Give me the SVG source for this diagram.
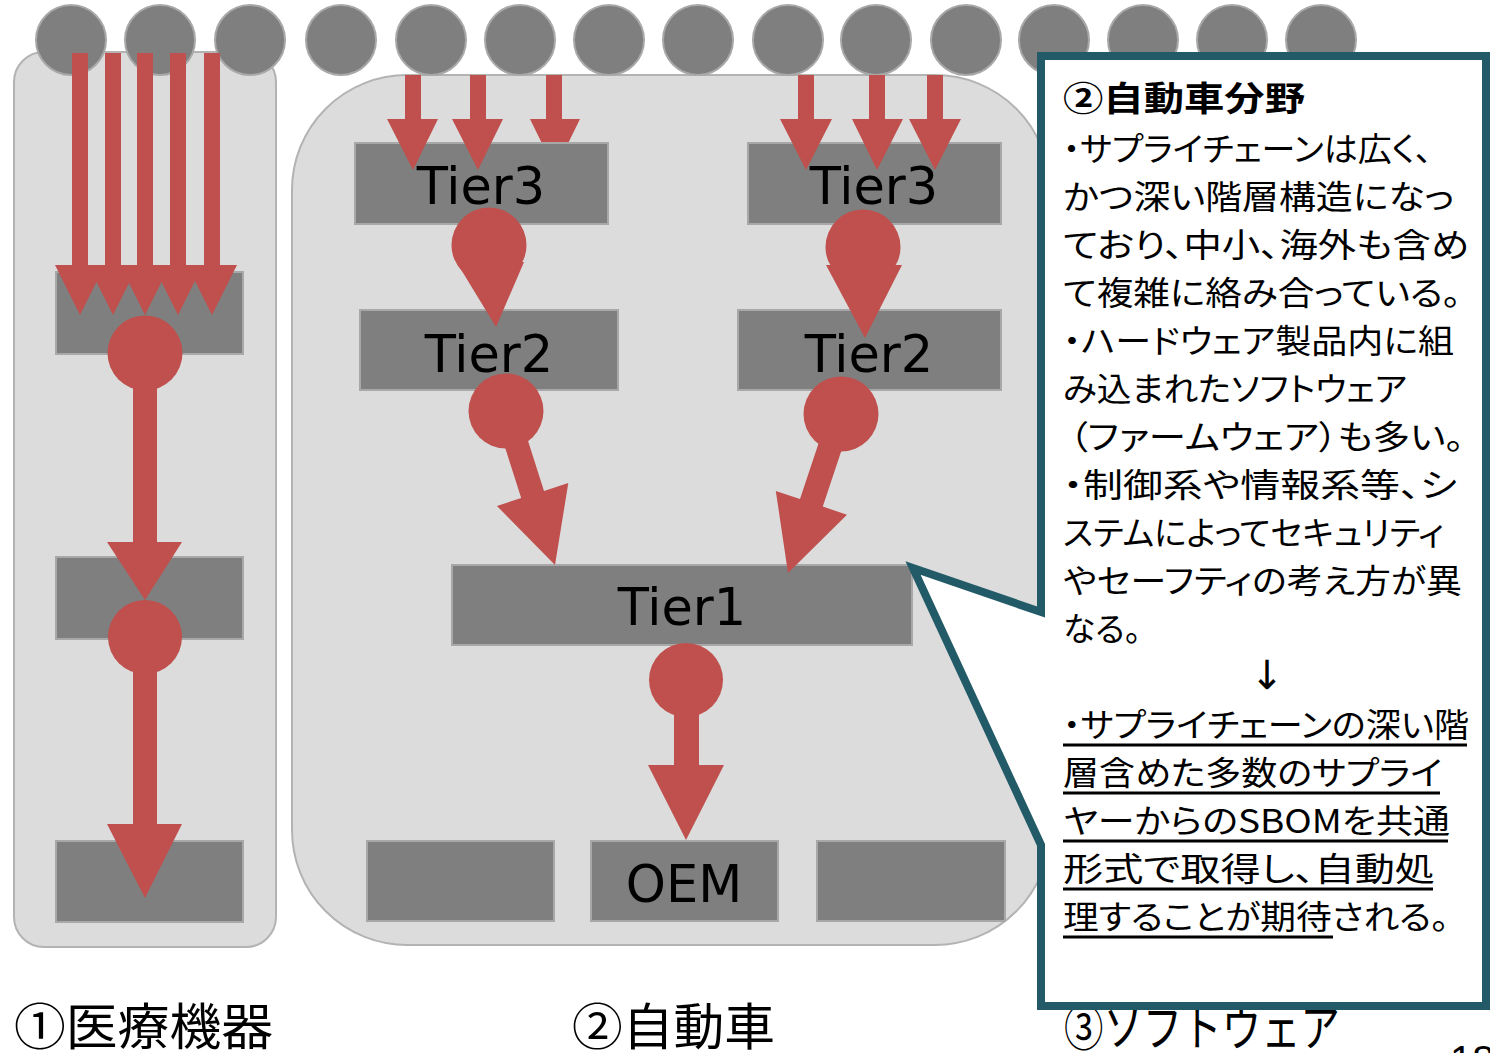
<svg xmlns="http://www.w3.org/2000/svg" width="1490" height="1053" viewBox="0 0 1490 1053">
<style>
.panel{fill:#DCDCDC;stroke:#B3B3B3;stroke-width:2}
.box{fill:#7F7F7F;stroke:#A8A8A8;stroke-width:2}
.dot{fill:#7F7F7F;stroke:#A8A8A8;stroke-width:2}
.red{fill:#C0504D;stroke:none}
.tier{font-family:"DejaVu Sans",Verdana,sans-serif;font-size:51px;fill:#000;text-anchor:middle}
.jp{font-family:"Noto Sans CJK JP","Noto Sans",sans-serif;fill:#000}
.call{font-size:33px;font-feature-settings:"palt"}
.lab{font-size:50px}
.ul{stroke:#000;stroke-width:3}
</style>
<rect width="1490" height="1053" fill="#FFFFFF"/>

<g id="panel-medical"><rect class="panel" x="14" y="52" width="262" height="895" rx="30"/></g>
<g id="panel-auto"><rect class="panel" x="292" y="75" width="758" height="870" rx="115"/></g>

<g id="suppliers">
<circle class="dot" cx="71" cy="40" r="35"/><circle class="dot" cx="160" cy="40" r="35"/><circle class="dot" cx="250" cy="40" r="35"/>
<circle class="dot" cx="341" cy="40" r="35"/><circle class="dot" cx="431" cy="40" r="35"/><circle class="dot" cx="520" cy="40" r="35"/>
<circle class="dot" cx="609" cy="40" r="35"/><circle class="dot" cx="698" cy="40" r="35"/><circle class="dot" cx="788" cy="40" r="35"/>
<circle class="dot" cx="876" cy="40" r="35"/><circle class="dot" cx="966" cy="40" r="35"/><circle class="dot" cx="1054" cy="40" r="35"/>
<circle class="dot" cx="1143" cy="40" r="35"/><circle class="dot" cx="1232" cy="40" r="35"/><circle class="dot" cx="1321" cy="40" r="35"/>
</g>

<g id="connectors-behind">
<polygon class="red" points="546,75 562,75 562,119 580,119 555,170 530,119 546,119"/>
</g>

<g id="med-box1"><rect class="box" x="56" y="272" width="187" height="82"/></g>
<g id="med-box2"><rect class="box" x="56" y="557" width="187" height="82"/></g>
<g id="med-box3"><rect class="box" x="56" y="841" width="187" height="81"/></g>

<g id="tier3-left"><rect class="box" x="355" y="143" width="253" height="81"/></g>
<g id="tier3-right"><rect class="box" x="748" y="143" width="253" height="81"/></g>
<g id="tier2-left"><rect class="box" x="360" y="310" width="258" height="80"/></g>
<g id="tier2-right"><rect class="box" x="738" y="310" width="263" height="80"/></g>
<g id="tier1"><rect class="box" x="452" y="565" width="460" height="80"/></g>
<g id="oem-left"><rect class="box" x="367" y="841" width="187" height="80"/></g>
<g id="oem"><rect class="box" x="591" y="841" width="187" height="80"/></g>
<g id="oem-right"><rect class="box" x="817" y="841" width="188" height="80"/></g>

<g id="connectors">
<polygon class="red" points="72,53 88,53 88,265 105,265 80,315 55,265 72,265"/>
<polygon class="red" points="105,53 121,53 121,265 138,265 113,315 88,265 105,265"/>
<polygon class="red" points="137,53 153,53 153,265 170,265 145,315 120,265 137,265"/>
<polygon class="red" points="170,53 186,53 186,265 203,265 178,315 153,265 170,265"/>
<polygon class="red" points="204,53 220,53 220,265 237,265 212,315 187,265 204,265"/>
<circle class="red" cx="145" cy="353" r="37.5"/>
<polygon class="red" points="133,353 157,353 157,542 182,542 145,600 107,542 133,542"/>
<circle class="red" cx="145" cy="637" r="37"/>
<polygon class="red" points="133,637 157,637 157,824 182,824 145,898 107,824 133,824"/>
<polygon class="red" points="405,75 421,75 421,119 438,119 413,170 387,119 405,119"/>
<polygon class="red" points="470,75 486,75 486,119 503,119 478,170 452,119 470,119"/>
<polygon class="red" points="798,75 814,75 814,119 832,119 806,170 780,119 798,119"/>
<polygon class="red" points="869,75 885,75 885,119 903,119 877,170 852,119 869,119"/>
<polygon class="red" points="927,75 943,75 943,119 961,119 935,170 909,119 927,119"/>
<circle class="red" cx="489" cy="245" r="37.5"/>
<polygon class="red" points="454,258 524,262 496,327"/>
<circle class="red" cx="863" cy="247" r="37.5"/>
<polygon class="red" points="826,265 902,265 865,338"/>
<circle class="red" cx="506" cy="411" r="37.5"/>
<polygon class="red" points="494.6,414.6 517.4,407.4 544,490.9 568.3,483.1 555,565 496.9,505.9 521.2,498.1"/>
<circle class="red" cx="841" cy="414" r="37.5"/>
<polygon class="red" points="829.6,410.2 852.4,417.8 822.8,506.6 847,514.7 788,573 775.8,490.9 800,499"/>
<circle class="red" cx="686" cy="680" r="37"/>
<polygon class="red" points="674,680 699,680 699,765 724,765 686,840 648,765 674,765"/>
</g>

<g id="labels-tier">
<text class="tier" x="481" y="204">Tier3</text>
<text class="tier" x="874" y="204">Tier3</text>
<text class="tier" x="489" y="372">Tier2</text>
<text class="tier" x="869" y="372">Tier2</text>
<text class="tier" x="682" y="625">Tier1</text>
<text class="tier" x="684" y="902">OEM</text>
</g>

<g id="captions">
<text class="jp lab" x="14" y="1045" textLength="259" lengthAdjust="spacingAndGlyphs">①医療機器</text>
<text class="jp lab" x="572" y="1045" textLength="203" lengthAdjust="spacingAndGlyphs">②自動車</text>
<text class="jp lab" x="1064" y="1046" textLength="276" lengthAdjust="spacingAndGlyphs">③ソフトウェア</text>
<text x="1450" y="1074" font-family="Liberation Sans,Arial,sans-serif" font-size="40" fill="#000">18</text>
</g>

<g id="callout">
<path d="M1041,56 H1486 V1006 H1041 V845 L913,568 L1041,612 Z" fill="#FFFFFF" stroke="#235A68" stroke-width="8" stroke-linejoin="miter"/>
<g class="jp call">
<text x="1063" y="111" font-weight="bold" font-size="34" textLength="242" lengthAdjust="spacingAndGlyphs">②自動車分野</text>
<text x="1063" y="161" textLength="369" lengthAdjust="spacingAndGlyphs">・サプライチェーンは広く、</text>
<text x="1063" y="209" textLength="391" lengthAdjust="spacingAndGlyphs">かつ深い階層構造になっ</text>
<text x="1063" y="257" textLength="406" lengthAdjust="spacingAndGlyphs">ており、中小、海外も含め</text>
<text x="1063" y="305" textLength="398" lengthAdjust="spacingAndGlyphs">て複雑に絡み合っている。</text>
<text x="1063" y="353" textLength="391" lengthAdjust="spacingAndGlyphs">・ハードウェア製品内に組</text>
<text x="1063" y="401" textLength="344" lengthAdjust="spacingAndGlyphs">み込まれたソフトウェア</text>
<text x="1069" y="449" textLength="395" lengthAdjust="spacingAndGlyphs">（ファームウェア）も多い。</text>
<text x="1063" y="497" textLength="394" lengthAdjust="spacingAndGlyphs">・制御系や情報系等、シ</text>
<text x="1063" y="545" textLength="381" lengthAdjust="spacingAndGlyphs">ステムによってセキュリティ</text>
<text x="1063" y="593" textLength="399" lengthAdjust="spacingAndGlyphs">やセーフティの考え方が異</text>
<text x="1063" y="641" textLength="78" lengthAdjust="spacingAndGlyphs">なる。</text>
<text x="1267" y="689" text-anchor="middle" font-family="DejaVu Sans,sans-serif" font-size="40">↓</text>
<text x="1063" y="737" textLength="406" lengthAdjust="spacingAndGlyphs">・サプライチェーンの深い階</text>
<text x="1063" y="785" textLength="379" lengthAdjust="spacingAndGlyphs">層含めた多数のサプライ</text>
<text x="1063" y="833" textLength="387" lengthAdjust="spacingAndGlyphs">ヤーからのSBOMを共通</text>
<text x="1063" y="881" textLength="372" lengthAdjust="spacingAndGlyphs">形式で取得し、自動処</text>
<text x="1063" y="929" textLength="386" lengthAdjust="spacingAndGlyphs">理することが期待される。</text>
</g>
<g class="ul">
<line x1="1063" y1="745" x2="1467" y2="745"/>
<line x1="1063" y1="793" x2="1440" y2="793"/>
<line x1="1063" y1="841" x2="1448" y2="841"/>
<line x1="1063" y1="889" x2="1433" y2="889"/>
<line x1="1063" y1="937" x2="1333" y2="937"/>
</g>
</g>
</svg>
